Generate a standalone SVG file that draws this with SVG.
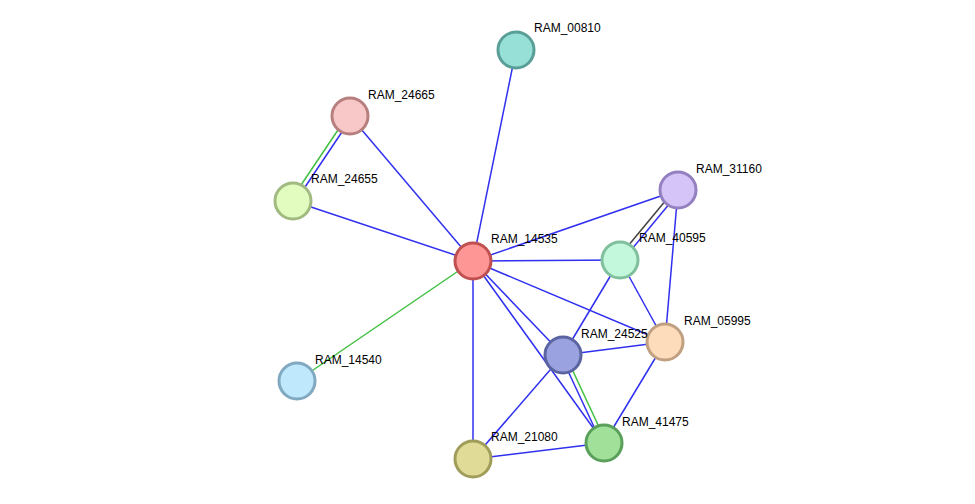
<svg xmlns="http://www.w3.org/2000/svg" width="975" height="504" viewBox="0 0 975 504">
<style>
.e{stroke:#3030f0;stroke-width:1.5;fill:none}
.g{stroke:#40c040;stroke-width:1.5;fill:none}
.k{stroke:#404040;stroke-width:1.5;fill:none}
circle{stroke-width:3}
text{font-family:"Liberation Sans",Arial,sans-serif;font-size:12px;fill:#000}
</style>
<rect width="975" height="504" fill="#fff"/>
<g id="edges">
<line class="e" x1="473" y1="261" x2="516" y2="50"/>
<line class="e" x1="473" y1="261" x2="350" y2="116"/>
<line class="e" x1="473" y1="261" x2="293" y2="201"/>
<line class="e" x1="473" y1="261" x2="678" y2="190"/>
<line class="e" x1="473" y1="261" x2="620" y2="260"/>
<line class="e" x1="473" y1="261" x2="665" y2="342"/>
<line class="e" x1="473" y1="261" x2="563" y2="355"/>
<line class="e" x1="473" y1="261" x2="604" y2="443"/>
<line class="e" x1="473" y1="261" x2="473" y2="459"/>
<line class="g" x1="473" y1="261" x2="297" y2="381"/>
<line class="g" x1="348" y1="115" x2="291" y2="200"/>
<line class="e" x1="352" y1="117" x2="295" y2="202"/>
<line class="k" x1="676" y1="188" x2="618" y2="258"/>
<line class="e" x1="680" y1="191" x2="622" y2="261"/>
<line class="e" x1="678" y1="190" x2="665" y2="342"/>
<line class="e" x1="620" y1="260" x2="665" y2="342"/>
<line class="e" x1="620" y1="260" x2="563" y2="355"/>
<line class="e" x1="563" y1="355" x2="665" y2="342"/>
<line class="e" x1="563" y1="355" x2="473" y2="459"/>
<line class="e" x1="561" y1="356" x2="602" y2="444"/>
<line class="g" x1="565" y1="354" x2="606" y2="442"/>
<line class="e" x1="665" y1="342" x2="604" y2="443"/>
<line class="e" x1="473" y1="459" x2="604" y2="443"/>
</g>
<g id="RAM_00810"><circle cx="516" cy="50" r="18" fill="#96e0d8" stroke="#5a9e98"/><text x="534" y="32">RAM_00810</text></g>
<g id="RAM_24665"><circle cx="350" cy="116" r="18" fill="#f8c8c8" stroke="#b87f7f"/><text x="368" y="99">RAM_24665</text></g>
<g id="RAM_24655"><circle cx="293" cy="201" r="18" fill="#e2fcc0" stroke="#a0ba80"/><text x="311" y="183">RAM_24655</text></g>
<g id="RAM_31160"><circle cx="678" cy="190" r="18" fill="#d4c4f8" stroke="#9480c0"/><text x="696" y="173">RAM_31160</text></g>
<g id="RAM_14535"><circle cx="473" cy="261" r="18" fill="#ff9696" stroke="#c05050"/><text x="491" y="243">RAM_14535</text></g>
<g id="RAM_40595"><circle cx="620" cy="260" r="18" fill="#c4f8dc" stroke="#80c09c"/><text x="639" y="242">RAM_40595</text></g>
<g id="RAM_05995"><circle cx="665" cy="342" r="18" fill="#fddcbc" stroke="#c0a080"/><text x="684" y="325">RAM_05995</text></g>
<g id="RAM_24525"><circle cx="563" cy="355" r="18" fill="#9aa3e0" stroke="#5a64a0"/><text x="581" y="338">RAM_24525</text></g>
<g id="RAM_14540"><circle cx="297" cy="381" r="18" fill="#c0e8fc" stroke="#80a8c0"/><text x="315" y="364">RAM_14540</text></g>
<g id="RAM_21080"><circle cx="473" cy="459" r="18" fill="#e0dc98" stroke="#a09c5a"/><text x="491" y="441">RAM_21080</text></g>
<g id="RAM_41475"><circle cx="604" cy="443" r="18" fill="#a0e098" stroke="#5aa05a"/><text x="622" y="426">RAM_41475</text></g>
</svg>
